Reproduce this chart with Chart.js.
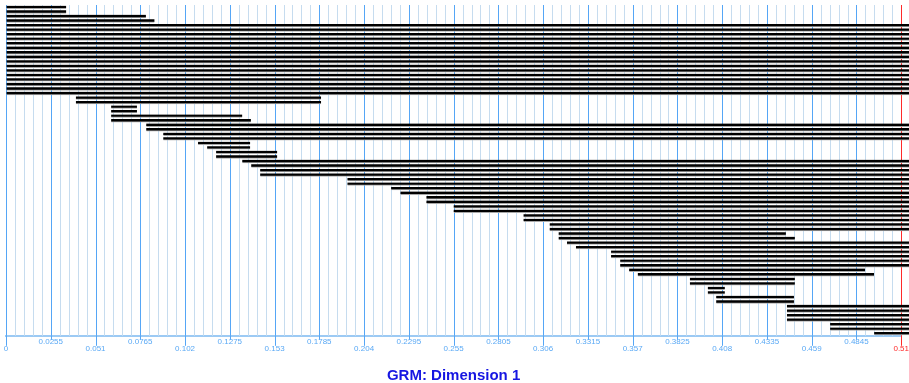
<!DOCTYPE html>
<html>
<head>
<meta charset="utf-8">
<script src="https://cdn.jsdelivr.net/npm/chart.js@4/dist/chart.umd.min.js"></script>
<style>
  html, body { margin: 0; padding: 0; background: #fff; }
  #wrap { width: 909px; height: 383px; }
</style>
</head>
<body>
<div id="wrap"><canvas id="myChart"></canvas></div>
<script>
// Data: one floating bar per row, [start, end] on the GRM axis
var FULL = 0.5155; // bars that run off the right edge

var starts = [
  0, 0, 0, 0,
  0, 0, 0, 0, 0, 0, 0, 0, 0, 0, 0, 0, 0, 0, 0, 0,
  0.0398, 0.0398, 0.0599, 0.0599, 0.0599, 0.0599,
  0.0799, 0.0799, 0.0896, 0.0896, 0.1094, 0.1146, 0.1197, 0.1197,
  0.1346, 0.1397, 0.1448, 0.1448, 0.1945, 0.1945, 0.2194, 0.2247,
  0.2395, 0.2395, 0.2550, 0.2550, 0.2948, 0.2948, 0.3097, 0.3097,
  0.3148, 0.3148, 0.3196, 0.3247, 0.3447, 0.3447, 0.3499, 0.3499,
  0.3550, 0.3599, 0.3896, 0.3896, 0.3998, 0.3998, 0.4046, 0.4046,
  0.4449, 0.4449, 0.4449, 0.4449, 0.4695, 0.4695, 0.4946
];

var ends = [
  0.0343, 0.0343, 0.0797, 0.0846,
  FULL, FULL, FULL, FULL, FULL, FULL, FULL, FULL, FULL, FULL, FULL, FULL, FULL, FULL, FULL, FULL,
  0.1795, 0.1795, 0.0746, 0.0746, 0.1346, 0.1395,
  FULL, FULL, FULL, FULL, 0.1391, 0.1391, 0.1545, 0.1545,
  FULL, FULL, FULL, FULL, FULL, FULL, FULL, FULL,
  FULL, FULL, FULL, FULL, FULL, FULL, FULL, FULL,
  0.4443, 0.4494, FULL, FULL, FULL, FULL, FULL, FULL,
  0.4894, 0.4945, 0.4494, 0.4494, 0.4095, 0.4095, 0.4489, 0.4489,
  FULL, FULL, FULL, FULL, FULL, FULL, FULL
];

var tickLabels = ['0', '0.0255', '0.051', '0.0765', '0.102', '0.1275', '0.153', '0.1785',
  '0.204', '0.2295', '0.255', '0.2805', '0.306', '0.3315', '0.357', '0.3825',
  '0.408', '0.4335', '0.459', '0.4845', '0.51'];

var categories = starts.map(function (s, i) { return String(i + 1); });
var bars = starts.map(function (s, i) { return [s, ends[i]]; });

var MAJOR = '#55a6f6';
var MINOR = '#c6dcef';
var EDGE = '#ff2a2a';

// vertical grid: 5 minor steps between labelled values, red at the max
var gridLines = {
  id: 'gridLines',
  beforeDatasetsDraw: function (chart) {
    var x = chart.scales.x, a = chart.chartArea, c = chart.ctx;
    c.save();
    c.lineWidth = 1;
    for (var j = 0; j <= 100; j++) {
      var px = Math.round(x.getPixelForValue(j * 0.0051)) + 0.5;
      c.strokeStyle = j === 100 ? EDGE : (j % 5 === 0 ? MAJOR : MINOR);
      c.beginPath();
      c.moveTo(px, a.top);
      c.lineTo(px, a.bottom);
      c.stroke();
    }
    c.restore();
  },
  afterDraw: function (chart) {
    // tick marks down to the labels, longer for the lower row
    var x = chart.scales.x, c = chart.ctx, y0 = chart.chartArea.bottom;
    c.save();
    c.lineWidth = 1;
    for (var k = 0; k < tickLabels.length; k++) {
      var px = Math.round(x.getPixelForValue(k * 0.0255)) + 0.5;
      c.strokeStyle = k === tickLabels.length - 1 ? EDGE : MAJOR;
      c.beginPath();
      c.moveTo(px, y0);
      c.lineTo(px, y0 + (k % 2 === 0 ? 10 : 4));
      c.stroke();
    }
    c.restore();
  }
};

var ctx = document.getElementById('myChart').getContext('2d');
var myChart = new Chart(ctx, {
  type: 'bar',
  data: {
    labels: categories,
    datasets: [{
      data: bars,
      backgroundColor: '#000000',
      borderColor: '#a8a8a8',
      borderWidth: { top: 0, left: 0, right: 0, bottom: 1 },
      borderSkipped: false,
      barThickness: 3,
      clip: false
    }]
  },
  options: {
    indexAxis: 'y',
    responsive: true,
    maintainAspectRatio: false,
    animation: false,
    layout: { autoPadding: false, padding: { left: 6, right: 5, top: 5, bottom: 0 } },
    plugins: { legend: { display: false }, tooltip: { enabled: false } },
    scales: {
      y: { display: false },
      x: {
        type: 'linear',
        min: 0,
        max: 0.51,
        border: { color: '#9ccaf4', width: 2 },
        grid: {
          drawOnChartArea: false,
          tickColor: 'rgba(0,0,0,0)',
          tickLength: 2
        },
        ticks: {
          stepSize: 0.0051,
          autoSkip: false,
          maxRotation: 0,
          padding: 0,
          font: { family: 'Liberation Sans', size: 8, lineHeight: 0.95 },
          color: function (c) { return c.index === 100 ? EDGE : '#5aa9f5'; },
          callback: function (v, i) {
            if (i % 5 !== 0) return '';
            var k = i / 5;
            return k % 2 === 1 ? [tickLabels[k]] : ['', tickLabels[k]];
          }
        },
        title: {
          display: true,
          text: 'GRM: Dimension 1',
          color: '#1616e2',
          font: { family: 'Liberation Sans', size: 15, weight: 'bold', lineHeight: 1.0 },
          padding: { top: 15, bottom: 0 }
        }
      }
    }
  },
  plugins: [gridLines]
});
</script>
</body>
</html>
